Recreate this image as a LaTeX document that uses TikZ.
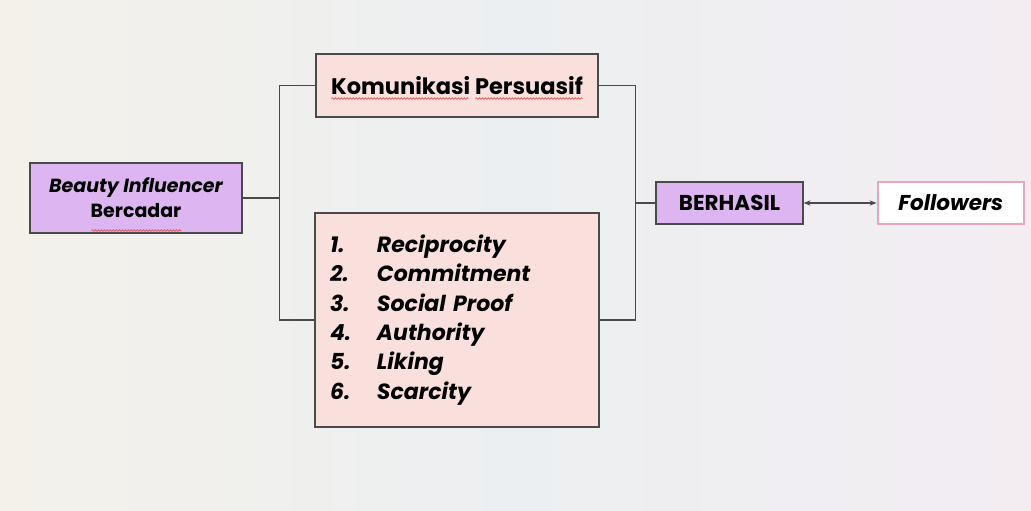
\documentclass[tikz,border=0pt]{standalone}
\usepackage{fontspec}
\setmainfont{Poppins}
\usepackage{xcolor}
\usetikzlibrary{positioning,calc,arrows.meta,decorations.pathmorphing}

\definecolor{lavender}{HTML}{DCB5F1}
\definecolor{blush}{HTML}{F9E0DC}
\definecolor{edgegray}{HTML}{4A4A4A}
\definecolor{rosepink}{HTML}{E9A5C0}
\definecolor{spellred}{HTML}{E0484C}
\definecolor{bgleft}{HTML}{F4F1EA}
\definecolor{bgmid}{HTML}{ECEFF1}
\definecolor{bgright}{HTML}{F3EDF2}

\begin{document}
\begin{tikzpicture}[
  x=1pt, y=1pt,
  purplebox/.style={rectangle, draw=edgegray, line width=1.1pt, fill=lavender, inner sep=0pt},
  pinkbox/.style={rectangle, draw=edgegray, line width=1.1pt, fill=blush, inner sep=0pt},
  whitebox/.style={rectangle, draw=rosepink, line width=2.4pt, fill=white, inner sep=0pt},
  link/.style={draw=edgegray, line width=1.1pt},
  squiggle/.style={draw=spellred, line width=0.6pt, decorate,
    decoration={snake, amplitude=0.9pt, segment length=3pt}}
]

% background
\shade[left color=bgleft, right color=bgright, middle color=bgmid]
  (0,0) rectangle (1031,511);
\useasboundingbox (0,0) rectangle (1031,511);

%Nodes
\node[purplebox, minimum width=212pt, minimum height=70pt, align=center,
  font=\fontsize{19}{25}\selectfont\bfseries] (infl) at (136,313)
  {\itshape Beauty Influencer\\Bercadar};
\node[pinkbox, minimum width=282pt, minimum height=63pt,
  font=\fontsize{22.5}{25}\selectfont\bfseries] (komu) at (457,425.5)
  {Komunikasi Persuasif};
\node[pinkbox, minimum width=284pt, minimum height=214pt, text width=254pt,
  align=left, inner xsep=15pt,
  font=\fontsize{22}{29.3}\selectfont\bfseries\itshape] (list) at (457,191)
  {\makebox[47pt][l]{1.}Reciprocity\\
   \makebox[47pt][l]{2.}Commitment\\
   \makebox[47pt][l]{3.}Social Proof\\
   \makebox[47pt][l]{4.}Authority\\
   \makebox[47pt][l]{5.}Liking\\
   \makebox[47pt][l]{6.}Scarcity};
\node[purplebox, minimum width=147pt, minimum height=42pt,
  font=\fontsize{21.5}{24}\selectfont\bfseries] (hasil) at (729.5,308) {BERHASIL};
\node[whitebox, minimum width=146pt, minimum height=42pt, right=73pt of hasil,
  font=\fontsize{21.5}{24}\selectfont\bfseries\itshape] (foll) {Followers};

\coordinate (split) at ($(infl.east)+(37,0)$);
\coordinate (bus) at ($(hasil.west)+(-20,0)$);

%Lines
\draw[link] (infl.east) -- (split);
\draw[link] (komu.west) -| (split) |- (list.west);
\draw[link] (komu.east) -| (bus) |- (list.east);
\draw[link, line width=2pt] (bus) -- (hasil.west);
\draw[link, line width=1.2pt, {Stealth[length=7pt]}-{Stealth[length=7pt]}]
  (hasil.east) -- (foll.west);

%spell marks
\draw[squiggle] ($(infl.south west)+(62,3)$) -- ++(90,0);
\draw[squiggle] ($(komu.south west)+(16,19)$) -- ++(137,0);
\draw[squiggle] ($(komu.south west)+(160,19)$) -- ++(107,0);
\end{tikzpicture}
\end{document}
